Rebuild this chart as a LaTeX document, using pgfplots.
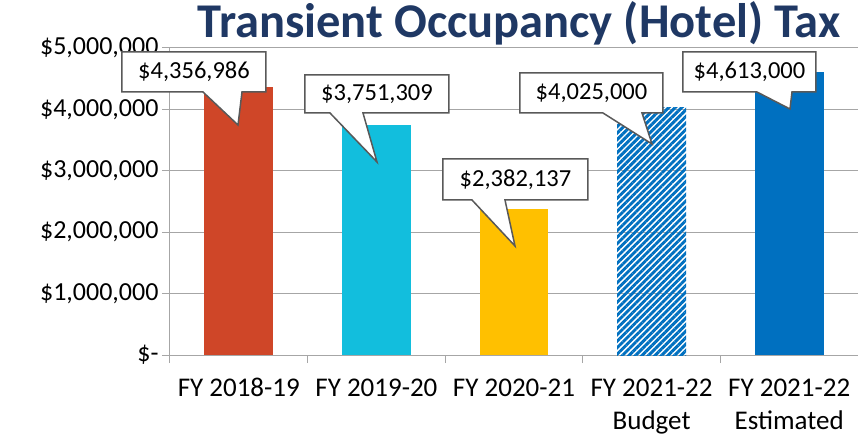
\documentclass[border=0pt]{standalone}
\usepackage{pgfplots}
\pgfplotsset{compat=1.18}
\usepackage{fontspec}
\setmainfont{Carlito}
\usetikzlibrary{patterns.meta}
\definecolor{c1}{HTML}{CF4628}
\definecolor{c2}{HTML}{12BEDD}
\definecolor{c3}{HTML}{FFC000}
\definecolor{c5}{HTML}{0070C0}
\definecolor{gridc}{HTML}{A6A6A6}
\definecolor{titlec}{HTML}{1F3864}
\definecolor{callc}{HTML}{595959}
\newcommand\yl[1]{\fontsize{26bp}{28bp}\selectfont #1}
\newcommand\callout[9]{%
  \filldraw[fill=white, draw=callc, line width=1.5bp, line join=miter]
    (#1,#2) -- (#3,#2) -- (#3,#4) -- (#6,#4) -- (#7,#8) -- (#5,#4) -- (#1,#4) -- cycle;
  \node[font=\fontsize{24.5bp}{28bp}\selectfont, anchor=center] at ({(#1+#3)/2},{(#2+#4)/2}) {#9};
}
\begin{document}
\begin{tikzpicture}
\path[use as bounding box] (-170bp,-83bp) rectangle (688bp,355bp);
\begin{axis}[
  at={(0,0)}, anchor=south west,
  scale only axis, width=688bp, height=307bp,
  xmin=-0.5, xmax=4.5, ymin=0, ymax=5000000,
  ybar, bar width=0.5, bar shift=0pt,
  axis lines*=left,
  axis line style={gridc, line width=1bp, -},
  ymajorgrids, grid style={gridc, line width=1bp},
  ytick={0,1000000,2000000,3000000,4000000,5000000},
  yticklabels={{\yl{\$-\hspace{14bp}}},{\yl{\$1,000,000}},{\yl{\$2,000,000}},{\yl{\$3,000,000}},{\yl{\$4,000,000}},{\yl{\$5,000,000}}},
  xtick={0,1,2,3,4},
  xticklabels={{FY 2018-19},{FY 2019-20},{FY 2020-21},{FY 2021-22\\Budget},{FY 2021-22\\Estimated}},
  minor xtick={-0.5,0.5,1.5,2.5,3.5,4.5},
  tick align=outside, major tick length=8bp, minor tick length=8bp,
  tick style={gridc, line width=1bp},
  major x tick style={draw=none},
  xticklabel style={align=center, font=\fontsize{27bp}{33bp}\selectfont, text=black, yshift=-12bp},
  yticklabel style={text=black},
  scaled y ticks=false,
  clip=false,
]
\addplot[fill=c1, draw=none] coordinates {(0,4356986)};
\addplot[fill=c2, draw=none] coordinates {(1,3751309)};
\addplot[fill=c3, draw=none] coordinates {(2,2382137)};
\addplot[draw=none, pattern={Lines[angle=45,distance=4.6bp,line width=2.9bp]}, pattern color=c5] coordinates {(3,4025000)};
\addplot[fill=c5, draw=none] coordinates {(4,4613000)};
\end{axis}
\begin{scope}[x=1bp, y=-1bp, shift={(-170bp,355bp)}]
\callout{122}{52}{266}{92}{203}{242}{238}{125}{\$4,356,986}
\callout{305}{75}{449}{113}{330}{363}{377}{162}{\$3,751,309}
\callout{443}{159}{588}{200}{472}{505}{515}{246}{\$2,382,137}
\callout{520}{73}{663}{113}{603}{642}{652}{144}{\$4,025,000}
\callout{683}{52}{816}{92}{757}{792}{790}{109}{\$4,613,000}
\node[anchor=base, font=\fontsize{48.5bp}{52bp}\selectfont\bfseries, text=titlec] at (519,38) {Transient Occupancy (Hotel) Tax};
\end{scope}
\end{tikzpicture}
\end{document}
